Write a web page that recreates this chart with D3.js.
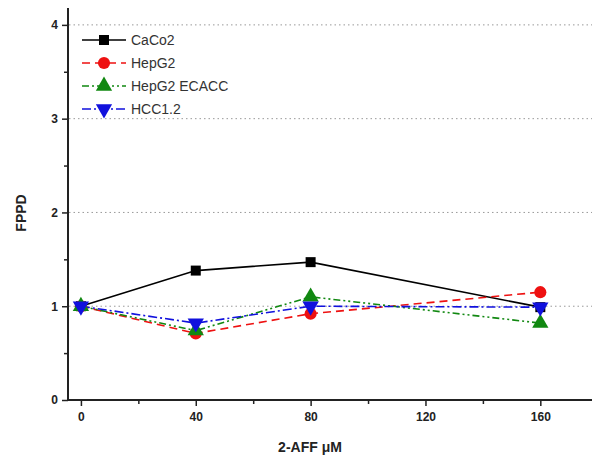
<!DOCTYPE html>
<html>
<head>
<meta charset="utf-8">
<script src="https://d3js.org/d3.v7.min.js"></script>
<style>
    body { margin: 0; background: #fff; }
    svg { font-family: "Liberation Sans", Arial, sans-serif; }
</style>
</head>
<body>
<script>
var doses = [0, 40, 80, 160];
var caco2 = [1.0, 1.38, 1.47, 0.99];
var hepg2 = [1.0, 0.71, 0.92, 1.15];
var ecacc = [1.0, 0.74, 1.10, 0.82];
var hcc12 = [1.0, 0.82, 1.0, 0.99];
var seriesNames = ["CaCo2", "HepG2", "HepG2 ECACC", "HCC1.2"];
var xTicks = [0, 40, 80, 120, 160];
var yTicks = [0, 1, 2, 3, 4];

var width = 593, height = 464;
var plotLeft = 68, plotRight = 592, plotTop = 8, plotBottom = 400;

var svg = d3.select("body").append("svg")
    .attr("width", width)
    .attr("height", height);

var x = d3.scaleLinear().domain([-4.5, 178]).range([plotLeft, plotRight]);
var y = d3.scaleLinear().domain([0, 4.18]).range([plotBottom, plotTop]);

// dotted grid lines
svg.selectAll(".grid")
    .data(yTicks.slice(1))
    .enter().append("line")
    .attr("x1", plotLeft + 1).attr("x2", plotRight)
    .attr("y1", function (d) { return y(d); })
    .attr("y2", function (d) { return y(d); })
    .style("stroke", "#999")
    .style("stroke-width", 1)
    .style("stroke-dasharray", "1.5,3");

// axes with minor ticks
var xAxis = d3.axisBottom(x).tickValues(xTicks).tickSize(6).tickPadding(6).tickFormat(d3.format("d"));
var yAxis = d3.axisLeft(y).tickValues(yTicks).tickSize(6).tickPadding(4).tickFormat(d3.format("d"));

var gx = svg.append("g").attr("transform", "translate(0," + plotBottom + ")").call(xAxis);
var gy = svg.append("g").attr("transform", "translate(" + plotLeft + ",0)").call(yAxis);

svg.append("g").attr("transform", "translate(0," + plotBottom + ")")
    .call(d3.axisBottom(x).tickValues([20, 60, 100, 140]).tickSize(4).tickFormat(""))
    .select(".domain").remove();
svg.append("g").attr("transform", "translate(" + plotLeft + ",0)")
    .call(d3.axisLeft(y).tickValues([0.5, 1.5, 2.5, 3.5]).tickSize(4).tickFormat(""))
    .select(".domain").remove();

svg.selectAll(".domain").attr("stroke-width", 2).attr("stroke", "#222");
svg.selectAll(".tick line").attr("stroke-width", 1.5).attr("stroke", "#222");
svg.selectAll(".tick text")
    .style("font-size", "12px")
    .style("font-weight", "bold")
    .style("fill", "#222");
gx.select(".domain").attr("d", "M" + plotLeft + ",0H" + plotRight);
gy.select(".domain").attr("d", "M0," + plotBottom + "V" + plotTop);

// axis titles
svg.append("text")
    .attr("x", 310).attr("y", 452)
    .attr("text-anchor", "middle")
    .style("font-size", "14px")
    .style("font-weight", "bold")
    .style("fill", "#222")
    .text("2-AFF \u03bcM");

svg.append("text")
    .attr("transform", "translate(26,213) rotate(-90)")
    .attr("text-anchor", "middle")
    .style("font-size", "14px")
    .style("font-weight", "bold")
    .style("fill", "#222")
    .text("FPPD");

var series = [
    { name: seriesNames[0], values: caco2, color: "#000000", dash: null, symbol: d3.symbolSquare, size: 100, rot: 0 },
    { name: seriesNames[1], values: hepg2, color: "#ee1111", dash: "8,5", symbol: d3.symbolCircle, size: 115, rot: 0 },
    { name: seriesNames[2], values: ecacc, color: "#118811", dash: "7,3,2,3,2,3", symbol: d3.symbolTriangle, size: 115, rot: 0 },
    { name: seriesNames[3], values: hcc12, color: "#1111dd", dash: "9,3,2,3", symbol: d3.symbolTriangle, size: 115, rot: 180 }
];

var line = d3.line()
    .x(function (d) { return x(d[0]); })
    .y(function (d) { return y(d[1]); });

series.forEach(function (s) {
    var pts = doses.map(function (d, i) { return [d, s.values[i]]; });
    svg.append("path")
        .datum(pts)
        .attr("d", line)
        .style("fill", "none")
        .style("stroke", s.color)
        .style("stroke-width", 1.6)
        .style("stroke-dasharray", s.dash);
});

series.forEach(function (s) {
    var pts = doses.map(function (d, i) { return [d, s.values[i]]; });
    svg.selectAll(null)
        .data(pts)
        .enter().append("path")
        .attr("d", d3.symbol().type(s.symbol).size(s.size))
        .attr("transform", function (d) {
            return "translate(" + x(d[0]) + "," + y(d[1]) + ") rotate(" + s.rot + ")";
        })
        .style("fill", s.color);
});

// legend
var legend = svg.append("g");
series.forEach(function (s, i) {
    var ly = 40 + i * 23;
    legend.append("line")
        .attr("x1", 82).attr("x2", 126)
        .attr("y1", ly).attr("y2", ly)
        .style("stroke", s.color)
        .style("stroke-width", 1.6)
        .style("stroke-dasharray", s.dash);
    legend.append("path")
        .attr("d", d3.symbol().type(s.symbol).size(s.size))
        .attr("transform", "translate(104," + ly + ") rotate(" + s.rot + ")")
        .style("fill", s.color);
    legend.append("text")
        .attr("x", 131).attr("y", ly + 5)
        .style("font-size", "14px")
        .style("fill", "#333")
        .text(s.name);
});
</script>
</body>
</html>
